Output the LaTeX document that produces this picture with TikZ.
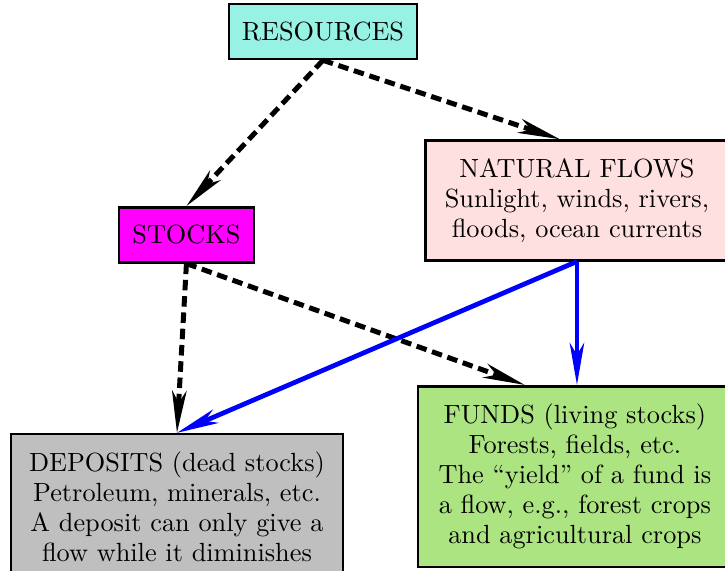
\documentclass[tikz,border=0pt]{standalone}
\usepackage{amsmath}
\usepackage{amssymb}
\usepackage[dvipsnames]{xcolor}
\usepackage{tikz}
\usetikzlibrary{arrows.meta}
\definecolor{resfill}{RGB}{152,242,228}
\definecolor{stockfill}{RGB}{255,0,255}
\definecolor{flowfill}{RGB}{255,224,224}
\definecolor{depfill}{RGB}{191,191,191}
\definecolor{fundfill}{RGB}{172,228,130}

\begin{document}
\begin{tikzpicture}[
  box/.style={shape = rectangle, draw=black, line width=1pt, align=center, inner xsep=4.5pt, inner ysep=6.8pt, font=\fontsize{10}{11.4}\selectfont},
  stockline/.style={-{Stealth[length=16pt, width=5.5pt, inset=4.5pt]}, line width=1.9pt, dash pattern=on 4pt off 2.2pt},
  flowline/.style={-{Stealth[length=16pt, width=5.5pt, inset=4.5pt]}, line width=1.8pt, draw=blue}
]
\useasboundingbox (0pt,0pt) rectangle (275.7pt,217.1pt);
\node[box, fill=resfill, minimum width=71.5pt] (res) at (122.8pt,205.1pt) {RESOURCES};
\node[box, fill=stockfill, minimum width=51.3pt] (stocks) at (70.9pt,127.8pt) {STOCKS};
\node[box, fill=flowfill, minimum width=115pt] (flows) at (219.4pt,140.9pt)
  {NATURAL FLOWS\\Sunlight, winds, rivers,\\floods, ocean currents};
\node[box, fill=depfill, minimum width=126.2pt, anchor=north] (dep) at (67.3pt,52.5pt)
  {DEPOSITS (dead stocks)\\Petroleum, minerals, etc.\\A deposit can only give a\\flow while it diminishes};
\node[box, fill=fundfill, minimum width=119.4pt, anchor=north] (funds) at (218.6pt,70.7pt)
  {FUNDS (living stocks)\\Forests, fields, etc.\\The ``yield'' of a fund is\\a flow, e.g., forest crops\\and agricultural crops};
% dead and living stocks
\draw[stockline] (res.south) -- (stocks.north);
\draw[stockline] (res.south) -- ([xshift=-6.5pt]flows.north);
\draw[stockline] (stocks.south) -- (dep.north);
\draw[stockline] (stocks.south) -- ([xshift=-19pt]funds.north);
% flows
\draw[flowline] (flows.south) -- (flows.south |- funds.north);
\draw[flowline] (flows.south) -- (dep.north);
\end{tikzpicture}
\end{document}
